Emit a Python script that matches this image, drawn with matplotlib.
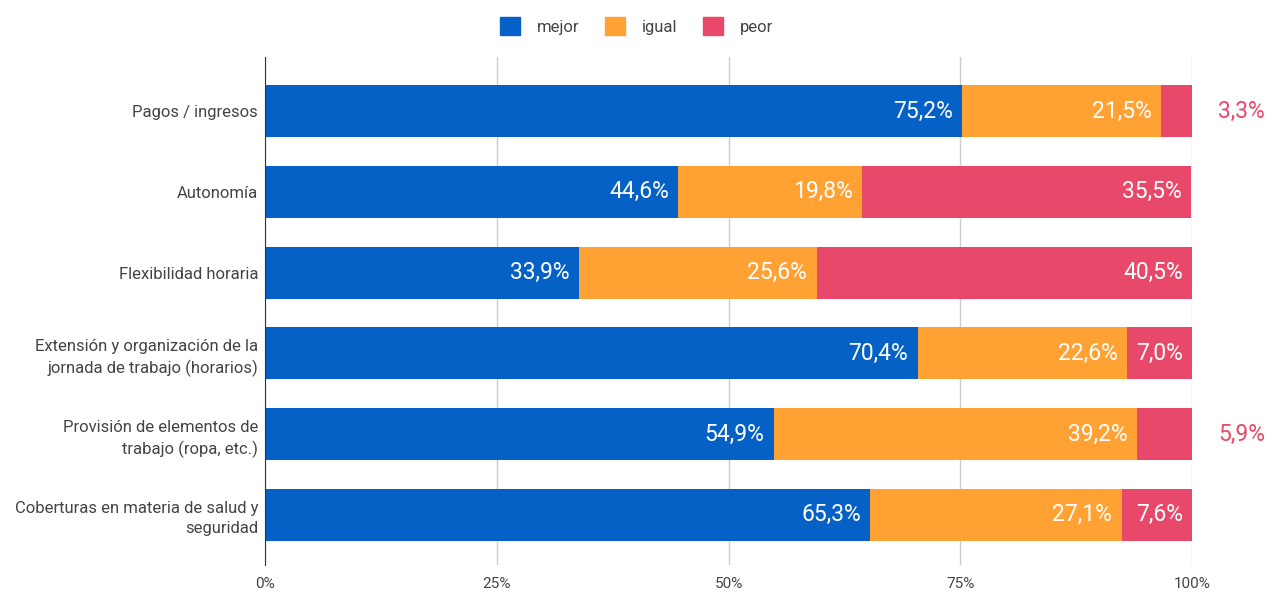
import matplotlib.pyplot as plt
import numpy as np
from matplotlib.patches import Patch

plt.rcParams['font.family'] = ['Roboto', 'DejaVu Sans']

# datos
categorias = [
    'Pagos / ingresos',
    'Autonomía',
    'Flexibilidad horaria',
    'Extensión y organización de la\njornada de trabajo (horarios)',
    'Provisión de elementos de\ntrabajo (ropa, etc.)',
    'Coberturas en materia de salud y\nseguridad',
]
mejor = [75.2, 44.6, 33.9, 70.4, 54.9, 65.3]
igual = [21.5, 19.8, 25.6, 22.6, 39.2, 27.1]
peor = [3.3, 35.5, 40.5, 7.0, 5.9, 7.6]
series = ['mejor', 'igual', 'peor']
colores = ['#0561C5', '#FFA133', '#E8486A']

fig = plt.figure(figsize=(12.73, 5.95), dpi=100)
ax = fig.add_axes([265 / 1273, 1 - 565 / 595, (1192 - 265) / 1273, (565 - 57) / 595])

y = np.arange(len(categorias))
left = np.zeros(len(categorias))
for nombre, vals, col in zip(series, [mejor, igual, peor], colores):
    vals = np.array(vals)
    ax.barh(y, vals, left=left, height=0.645, color=col, zorder=2)
    for i, v in enumerate(vals):
        txt = f'{v:.1f}%'.replace('.', ',')
        if v >= 6.5:
            ax.text(left[i] + v - 1.0, y[i], txt, ha='right', va='center',
                    color='white', fontsize=16.5, zorder=3)
        else:
            # etiqueta fuera de la barra
            ax.text(102.8, y[i], txt, ha='left', va='center',
                    color=col, fontsize=16.5, zorder=3)
    left += vals

ax.set_xlim(0, 100)
ax.set_ylim(5.62, -0.67)
ax.set_yticks(y)
ax.set_yticklabels(categorias, fontsize=12, color='#444444', linespacing=1.4)
ax.set_xticks([0, 25, 50, 75, 100])
ax.set_xticklabels(['0%', '25%', '50%', '75%', '100%'], fontsize=11, color='#444444')
ax.tick_params(axis='y', length=0, pad=5)
ax.tick_params(axis='x', length=0, pad=9)
ax.grid(axis='x', color='#cccccc', linewidth=1, zorder=0)
for s in ['top', 'right', 'bottom']:
    ax.spines[s].set_visible(False)
ax.spines['left'].set_color('#333333')
ax.spines['left'].set_zorder(4)

handles = [Patch(facecolor=c, edgecolor=c) for c in colores]
fig.legend(handles, series, loc='center', bbox_to_anchor=(0.5, 1 - 26 / 595), ncol=3,
           frameon=False, fontsize=12, handlelength=1.2, handleheight=1.2,
           columnspacing=1.55, handletextpad=1.0, labelcolor='#444444')

fig.savefig('out.png', dpi=100)
